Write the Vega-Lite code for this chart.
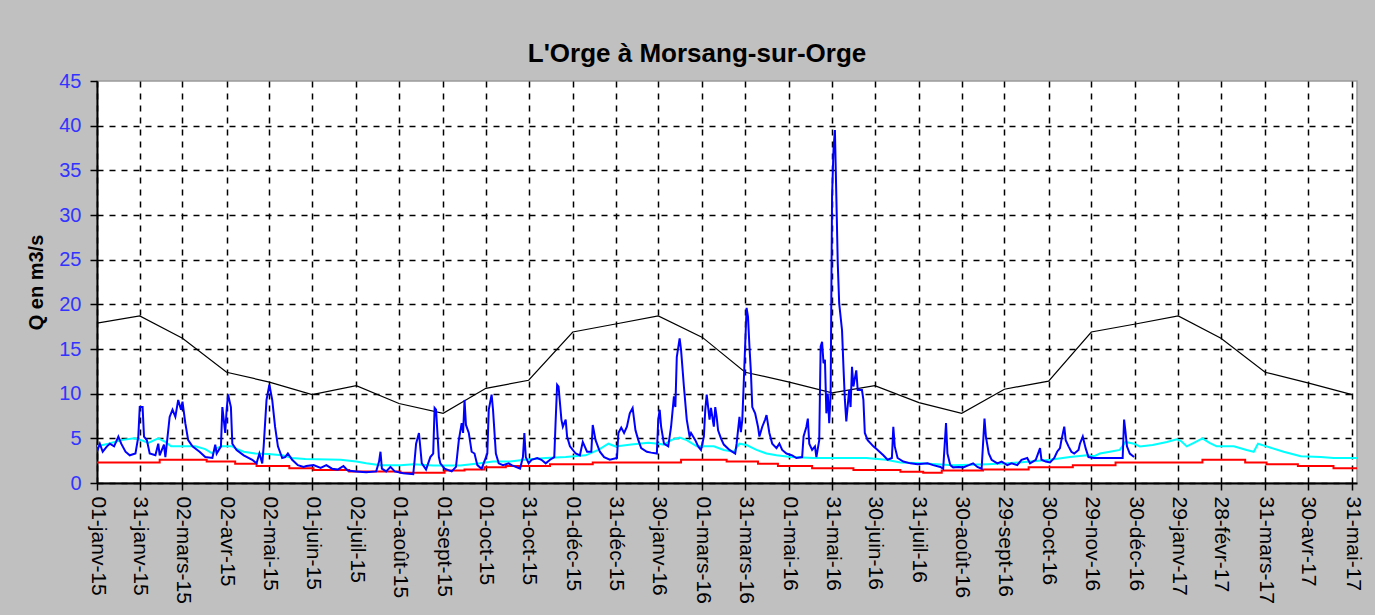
{
  "$schema": "https://vega.github.io/schema/vega-lite/v6.json",
  "width": 1260,
  "height": 402,
  "autosize": {"type": "none"},
  "padding": {"left": 97, "top": 81, "right": 18, "bottom": 132},
  "background": "#C0C0C0",
  "config": {
    "view": {"fill": "white", "stroke": "#9a9a9a", "strokeWidth": 1.5},
    "font": "Liberation Sans"
  },
  "title": {
    "text": "L'Orge à Morsang-sur-Orge",
    "font": "Liberation Sans",
    "fontSize": 26,
    "fontWeight": "bold",
    "color": "black",
    "anchor": "middle",
    "baseline": "alphabetic",
    "dx": -30,
    "dy": 36,
    "offset": 19
  },
  "datasets": {
    "noir": [
      {"date": "2015-01-01", "q": 17.9},
      {"date": "2015-01-31", "q": 18.7},
      {"date": "2015-03-02", "q": 16.2},
      {"date": "2015-04-02", "q": 12.4},
      {"date": "2015-05-02", "q": 11.3},
      {"date": "2015-06-01", "q": 9.9},
      {"date": "2015-07-02", "q": 10.9},
      {"date": "2015-08-01", "q": 8.9},
      {"date": "2015-09-01", "q": 7.8},
      {"date": "2015-10-01", "q": 10.6},
      {"date": "2015-10-31", "q": 11.5},
      {"date": "2015-12-01", "q": 16.9},
      {"date": "2015-12-31", "q": 17.8},
      {"date": "2016-01-30", "q": 18.7},
      {"date": "2016-03-01", "q": 16.3},
      {"date": "2016-03-31", "q": 12.4},
      {"date": "2016-05-01", "q": 11.3},
      {"date": "2016-05-31", "q": 10.1},
      {"date": "2016-06-30", "q": 10.9},
      {"date": "2016-07-31", "q": 9.0},
      {"date": "2016-08-30", "q": 7.8},
      {"date": "2016-09-29", "q": 10.5},
      {"date": "2016-10-30", "q": 11.4},
      {"date": "2016-11-29", "q": 16.9},
      {"date": "2016-12-30", "q": 17.8},
      {"date": "2017-01-29", "q": 18.7},
      {"date": "2017-02-28", "q": 16.2},
      {"date": "2017-03-31", "q": 12.4},
      {"date": "2017-04-30", "q": 11.2},
      {"date": "2017-05-31", "q": 9.9}
    ],
    "rouge": [
      {"date": "2015-01-01", "q": 2.3},
      {"date": "2015-02-14", "q": 2.6},
      {"date": "2015-03-19", "q": 2.4},
      {"date": "2015-04-08", "q": 2.15},
      {"date": "2015-04-23", "q": 1.9},
      {"date": "2015-05-16", "q": 1.65},
      {"date": "2015-06-02", "q": 1.45},
      {"date": "2015-06-27", "q": 1.3},
      {"date": "2015-08-02", "q": 1.15},
      {"date": "2015-09-02", "q": 1.4},
      {"date": "2015-09-16", "q": 1.5},
      {"date": "2015-09-30", "q": 1.75},
      {"date": "2015-10-15", "q": 1.9},
      {"date": "2015-11-15", "q": 2.1},
      {"date": "2015-12-15", "q": 2.3},
      {"date": "2016-02-15", "q": 2.6},
      {"date": "2016-03-18", "q": 2.4},
      {"date": "2016-04-09", "q": 2.15},
      {"date": "2016-04-23", "q": 1.9},
      {"date": "2016-05-17", "q": 1.65},
      {"date": "2016-06-15", "q": 1.45},
      {"date": "2016-07-18", "q": 1.25},
      {"date": "2016-08-03", "q": 1.15},
      {"date": "2016-08-16", "q": 1.4},
      {"date": "2016-09-14", "q": 1.5},
      {"date": "2016-10-16", "q": 1.75},
      {"date": "2016-11-16", "q": 2.0},
      {"date": "2016-12-16", "q": 2.3},
      {"date": "2017-02-15", "q": 2.6},
      {"date": "2017-03-17", "q": 2.3},
      {"date": "2017-04-01", "q": 2.1},
      {"date": "2017-04-23", "q": 1.9},
      {"date": "2017-05-18", "q": 1.65},
      {"date": "2017-06-04", "q": 1.65}
    ],
    "cyan": [
      {"date": "2015-01-01", "q": 4.1},
      {"date": "2015-01-09", "q": 4.4},
      {"date": "2015-01-18", "q": 4.8},
      {"date": "2015-01-27", "q": 5.0},
      {"date": "2015-02-01", "q": 4.8},
      {"date": "2015-02-06", "q": 4.5},
      {"date": "2015-02-13", "q": 5.0},
      {"date": "2015-02-18", "q": 4.6},
      {"date": "2015-02-22", "q": 4.1},
      {"date": "2015-03-11", "q": 4.1},
      {"date": "2015-03-18", "q": 3.8},
      {"date": "2015-03-23", "q": 3.3},
      {"date": "2015-03-26", "q": 3.9},
      {"date": "2015-03-30", "q": 4.1},
      {"date": "2015-04-06", "q": 4.1},
      {"date": "2015-04-09", "q": 3.8},
      {"date": "2015-04-14", "q": 3.5},
      {"date": "2015-04-22", "q": 3.3},
      {"date": "2015-05-01", "q": 3.25},
      {"date": "2015-05-11", "q": 3.1},
      {"date": "2015-05-18", "q": 2.8},
      {"date": "2015-05-27", "q": 2.7},
      {"date": "2015-06-21", "q": 2.6},
      {"date": "2015-07-02", "q": 2.4},
      {"date": "2015-07-09", "q": 2.2},
      {"date": "2015-07-19", "q": 2.0},
      {"date": "2015-08-02", "q": 2.0},
      {"date": "2015-08-11", "q": 2.1},
      {"date": "2015-08-25", "q": 1.95},
      {"date": "2015-09-13", "q": 1.95},
      {"date": "2015-09-27", "q": 2.2},
      {"date": "2015-10-06", "q": 2.4},
      {"date": "2015-10-18", "q": 2.4},
      {"date": "2015-10-28", "q": 2.6},
      {"date": "2015-11-12", "q": 2.8},
      {"date": "2015-11-26", "q": 2.9},
      {"date": "2015-12-10", "q": 3.1},
      {"date": "2015-12-19", "q": 3.7},
      {"date": "2015-12-26", "q": 4.4},
      {"date": "2015-12-31", "q": 4.1},
      {"date": "2016-01-11", "q": 4.3},
      {"date": "2016-01-23", "q": 4.5},
      {"date": "2016-01-30", "q": 4.4},
      {"date": "2016-02-03", "q": 4.3},
      {"date": "2016-02-08", "q": 4.8},
      {"date": "2016-02-14", "q": 5.1},
      {"date": "2016-02-19", "q": 4.8},
      {"date": "2016-02-26", "q": 4.1},
      {"date": "2016-03-09", "q": 4.1},
      {"date": "2016-03-16", "q": 3.7},
      {"date": "2016-03-23", "q": 3.5},
      {"date": "2016-03-27", "q": 4.4},
      {"date": "2016-04-01", "q": 4.25},
      {"date": "2016-04-08", "q": 3.7},
      {"date": "2016-04-15", "q": 3.3},
      {"date": "2016-04-22", "q": 3.1},
      {"date": "2016-05-02", "q": 2.9},
      {"date": "2016-05-18", "q": 2.8},
      {"date": "2016-06-24", "q": 2.8},
      {"date": "2016-07-08", "q": 2.6},
      {"date": "2016-07-18", "q": 2.3},
      {"date": "2016-08-01", "q": 2.2},
      {"date": "2016-08-24", "q": 2.0},
      {"date": "2016-09-17", "q": 2.1},
      {"date": "2016-10-01", "q": 2.2},
      {"date": "2016-10-17", "q": 2.4},
      {"date": "2016-10-31", "q": 2.6},
      {"date": "2016-11-14", "q": 2.9},
      {"date": "2016-11-26", "q": 3.1},
      {"date": "2016-12-01", "q": 3.0},
      {"date": "2016-12-05", "q": 3.3},
      {"date": "2016-12-12", "q": 3.5},
      {"date": "2016-12-19", "q": 3.7},
      {"date": "2016-12-23", "q": 4.6},
      {"date": "2016-12-29", "q": 4.4},
      {"date": "2017-01-02", "q": 4.1},
      {"date": "2017-01-11", "q": 4.25},
      {"date": "2017-01-21", "q": 4.6},
      {"date": "2017-01-28", "q": 4.9},
      {"date": "2017-01-31", "q": 4.7},
      {"date": "2017-02-04", "q": 4.1},
      {"date": "2017-02-09", "q": 4.5},
      {"date": "2017-02-15", "q": 5.0},
      {"date": "2017-02-20", "q": 4.5},
      {"date": "2017-02-25", "q": 4.1},
      {"date": "2017-03-09", "q": 4.1},
      {"date": "2017-03-18", "q": 3.7},
      {"date": "2017-03-23", "q": 3.5},
      {"date": "2017-03-26", "q": 4.4},
      {"date": "2017-04-01", "q": 4.1},
      {"date": "2017-04-13", "q": 3.5},
      {"date": "2017-04-25", "q": 3.0},
      {"date": "2017-05-09", "q": 2.9},
      {"date": "2017-05-18", "q": 2.8},
      {"date": "2017-06-04", "q": 2.8}
    ],
    "bleu": [
      {"date": "2015-01-01", "q": 3.5},
      {"date": "2015-01-03", "q": 4.4},
      {"date": "2015-01-05", "q": 3.5},
      {"date": "2015-01-08", "q": 4.1},
      {"date": "2015-01-10", "q": 4.4},
      {"date": "2015-01-13", "q": 4.1},
      {"date": "2015-01-16", "q": 5.2},
      {"date": "2015-01-18", "q": 4.4},
      {"date": "2015-01-21", "q": 3.5},
      {"date": "2015-01-24", "q": 3.1},
      {"date": "2015-01-28", "q": 3.3},
      {"date": "2015-01-30", "q": 5.2},
      {"date": "2015-01-31", "q": 8.5},
      {"date": "2015-02-02", "q": 8.5},
      {"date": "2015-02-03", "q": 5.2},
      {"date": "2015-02-05", "q": 4.8},
      {"date": "2015-02-07", "q": 3.3},
      {"date": "2015-02-11", "q": 3.1},
      {"date": "2015-02-13", "q": 4.4},
      {"date": "2015-02-14", "q": 3.1},
      {"date": "2015-02-17", "q": 4.3},
      {"date": "2015-02-18", "q": 2.9},
      {"date": "2015-02-21", "q": 7.4},
      {"date": "2015-02-23", "q": 8.2},
      {"date": "2015-02-25", "q": 7.4},
      {"date": "2015-02-27", "q": 9.3},
      {"date": "2015-03-01", "q": 8.2},
      {"date": "2015-03-02", "q": 9.1},
      {"date": "2015-03-04", "q": 6.7},
      {"date": "2015-03-06", "q": 4.8},
      {"date": "2015-03-09", "q": 4.1},
      {"date": "2015-03-14", "q": 3.5},
      {"date": "2015-03-18", "q": 2.9},
      {"date": "2015-03-23", "q": 2.8},
      {"date": "2015-03-25", "q": 4.3},
      {"date": "2015-03-26", "q": 3.3},
      {"date": "2015-03-29", "q": 4.1},
      {"date": "2015-03-30", "q": 8.5},
      {"date": "2015-04-01", "q": 5.6},
      {"date": "2015-04-02", "q": 8.2},
      {"date": "2015-04-03", "q": 9.9},
      {"date": "2015-04-05", "q": 8.5},
      {"date": "2015-04-06", "q": 4.4},
      {"date": "2015-04-09", "q": 3.7},
      {"date": "2015-04-14", "q": 3.1},
      {"date": "2015-04-20", "q": 2.6},
      {"date": "2015-04-23", "q": 2.2},
      {"date": "2015-04-25", "q": 3.3},
      {"date": "2015-04-27", "q": 2.2},
      {"date": "2015-04-28", "q": 4.1},
      {"date": "2015-04-30", "q": 9.3},
      {"date": "2015-05-02", "q": 11.0},
      {"date": "2015-05-04", "q": 9.3},
      {"date": "2015-05-06", "q": 6.3},
      {"date": "2015-05-08", "q": 4.1},
      {"date": "2015-05-11", "q": 2.8},
      {"date": "2015-05-13", "q": 2.9},
      {"date": "2015-05-15", "q": 3.3},
      {"date": "2015-05-18", "q": 2.6},
      {"date": "2015-05-22", "q": 2.0},
      {"date": "2015-05-26", "q": 1.8},
      {"date": "2015-05-28", "q": 1.9},
      {"date": "2015-06-02", "q": 2.0},
      {"date": "2015-06-07", "q": 1.7},
      {"date": "2015-06-11", "q": 2.0},
      {"date": "2015-06-15", "q": 1.6},
      {"date": "2015-06-19", "q": 1.5},
      {"date": "2015-06-23", "q": 1.9},
      {"date": "2015-06-26", "q": 1.4},
      {"date": "2015-07-02", "q": 1.3},
      {"date": "2015-07-09", "q": 1.2},
      {"date": "2015-07-16", "q": 1.3},
      {"date": "2015-07-18", "q": 2.4},
      {"date": "2015-07-19", "q": 3.5},
      {"date": "2015-07-20", "q": 1.6},
      {"date": "2015-07-23", "q": 1.3},
      {"date": "2015-07-26", "q": 1.8},
      {"date": "2015-07-29", "q": 1.3},
      {"date": "2015-08-04", "q": 1.1},
      {"date": "2015-08-11", "q": 1.0},
      {"date": "2015-08-12", "q": 2.6},
      {"date": "2015-08-13", "q": 4.4},
      {"date": "2015-08-15", "q": 5.6},
      {"date": "2015-08-17", "q": 2.2},
      {"date": "2015-08-20", "q": 1.5},
      {"date": "2015-08-23", "q": 2.9},
      {"date": "2015-08-25", "q": 3.3},
      {"date": "2015-08-26", "q": 8.4},
      {"date": "2015-08-27", "q": 8.2},
      {"date": "2015-08-29", "q": 2.9},
      {"date": "2015-08-30", "q": 2.2},
      {"date": "2015-09-02", "q": 1.6},
      {"date": "2015-09-07", "q": 1.3},
      {"date": "2015-09-10", "q": 1.8},
      {"date": "2015-09-12", "q": 4.8},
      {"date": "2015-09-14", "q": 6.7},
      {"date": "2015-09-15", "q": 5.6},
      {"date": "2015-09-16", "q": 9.3},
      {"date": "2015-09-17", "q": 6.5},
      {"date": "2015-09-19", "q": 5.6},
      {"date": "2015-09-21", "q": 3.5},
      {"date": "2015-09-23", "q": 3.3},
      {"date": "2015-09-25", "q": 2.0},
      {"date": "2015-09-28", "q": 1.6},
      {"date": "2015-10-02", "q": 3.3},
      {"date": "2015-10-03", "q": 8.2},
      {"date": "2015-10-05", "q": 9.9},
      {"date": "2015-10-06", "q": 8.2},
      {"date": "2015-10-08", "q": 3.3},
      {"date": "2015-10-10", "q": 2.2},
      {"date": "2015-10-13", "q": 2.0},
      {"date": "2015-10-17", "q": 2.2},
      {"date": "2015-10-19", "q": 2.0},
      {"date": "2015-10-25", "q": 1.6},
      {"date": "2015-10-27", "q": 2.9},
      {"date": "2015-10-28", "q": 5.6},
      {"date": "2015-10-29", "q": 2.9},
      {"date": "2015-10-31", "q": 2.2},
      {"date": "2015-11-02", "q": 2.6},
      {"date": "2015-11-06", "q": 2.8},
      {"date": "2015-11-09", "q": 2.6},
      {"date": "2015-11-12", "q": 2.2},
      {"date": "2015-11-15", "q": 2.6},
      {"date": "2015-11-18", "q": 2.9},
      {"date": "2015-11-19", "q": 7.1},
      {"date": "2015-11-20", "q": 11.0},
      {"date": "2015-11-21", "q": 10.8},
      {"date": "2015-11-23", "q": 7.1},
      {"date": "2015-11-24", "q": 6.3},
      {"date": "2015-11-26", "q": 7.1},
      {"date": "2015-11-27", "q": 5.2},
      {"date": "2015-11-29", "q": 4.1},
      {"date": "2015-12-03", "q": 3.3},
      {"date": "2015-12-06", "q": 3.1},
      {"date": "2015-12-08", "q": 4.6},
      {"date": "2015-12-11", "q": 3.5},
      {"date": "2015-12-14", "q": 3.5},
      {"date": "2015-12-15", "q": 6.5},
      {"date": "2015-12-17", "q": 4.8},
      {"date": "2015-12-20", "q": 3.5},
      {"date": "2015-12-23", "q": 2.9},
      {"date": "2015-12-27", "q": 2.6},
      {"date": "2016-01-01", "q": 2.8},
      {"date": "2016-01-02", "q": 5.6},
      {"date": "2016-01-04", "q": 6.2},
      {"date": "2016-01-06", "q": 5.6},
      {"date": "2016-01-08", "q": 6.3},
      {"date": "2016-01-10", "q": 7.8},
      {"date": "2016-01-12", "q": 8.4},
      {"date": "2016-01-14", "q": 5.9},
      {"date": "2016-01-16", "q": 4.8},
      {"date": "2016-01-18", "q": 3.9},
      {"date": "2016-01-22", "q": 3.5},
      {"date": "2016-01-25", "q": 3.4},
      {"date": "2016-01-29", "q": 3.3},
      {"date": "2016-01-30", "q": 7.1},
      {"date": "2016-01-31", "q": 8.2},
      {"date": "2016-02-01", "q": 6.3},
      {"date": "2016-02-03", "q": 4.4},
      {"date": "2016-02-06", "q": 4.1},
      {"date": "2016-02-08", "q": 6.3},
      {"date": "2016-02-10", "q": 9.7},
      {"date": "2016-02-11", "q": 8.5},
      {"date": "2016-02-12", "q": 14.1},
      {"date": "2016-02-14", "q": 16.2},
      {"date": "2016-02-15", "q": 14.9},
      {"date": "2016-02-17", "q": 10.8},
      {"date": "2016-02-19", "q": 7.1},
      {"date": "2016-02-21", "q": 5.2},
      {"date": "2016-02-22", "q": 5.6},
      {"date": "2016-02-25", "q": 4.8},
      {"date": "2016-02-27", "q": 4.1},
      {"date": "2016-02-29", "q": 3.7},
      {"date": "2016-03-02", "q": 5.2},
      {"date": "2016-03-03", "q": 8.2},
      {"date": "2016-03-04", "q": 9.9},
      {"date": "2016-03-06", "q": 7.1},
      {"date": "2016-03-07", "q": 8.4},
      {"date": "2016-03-09", "q": 6.3},
      {"date": "2016-03-10", "q": 8.5},
      {"date": "2016-03-11", "q": 7.4},
      {"date": "2016-03-12", "q": 5.9},
      {"date": "2016-03-14", "q": 5.0},
      {"date": "2016-03-16", "q": 4.3},
      {"date": "2016-03-20", "q": 3.7},
      {"date": "2016-03-24", "q": 3.3},
      {"date": "2016-03-25", "q": 4.4},
      {"date": "2016-03-27", "q": 7.4},
      {"date": "2016-03-28", "q": 5.7},
      {"date": "2016-03-29", "q": 7.1},
      {"date": "2016-03-30", "q": 11.2},
      {"date": "2016-04-01", "q": 19.6},
      {"date": "2016-04-02", "q": 18.6},
      {"date": "2016-04-03", "q": 15.3},
      {"date": "2016-04-04", "q": 12.5},
      {"date": "2016-04-05", "q": 8.5},
      {"date": "2016-04-07", "q": 7.8},
      {"date": "2016-04-09", "q": 6.3},
      {"date": "2016-04-10", "q": 5.2},
      {"date": "2016-04-12", "q": 6.3},
      {"date": "2016-04-14", "q": 7.1},
      {"date": "2016-04-15", "q": 7.6},
      {"date": "2016-04-17", "q": 5.6},
      {"date": "2016-04-19", "q": 4.4},
      {"date": "2016-04-22", "q": 3.9},
      {"date": "2016-04-24", "q": 4.4},
      {"date": "2016-04-26", "q": 3.7},
      {"date": "2016-04-29", "q": 3.3},
      {"date": "2016-05-03", "q": 3.1},
      {"date": "2016-05-06", "q": 2.8},
      {"date": "2016-05-10", "q": 2.9},
      {"date": "2016-05-11", "q": 5.2},
      {"date": "2016-05-13", "q": 6.3},
      {"date": "2016-05-14", "q": 7.2},
      {"date": "2016-05-15", "q": 4.4},
      {"date": "2016-05-17", "q": 3.7},
      {"date": "2016-05-19", "q": 4.1},
      {"date": "2016-05-20", "q": 2.9},
      {"date": "2016-05-22", "q": 4.8},
      {"date": "2016-05-23", "q": 15.3},
      {"date": "2016-05-24", "q": 15.8},
      {"date": "2016-05-25", "q": 13.4},
      {"date": "2016-05-26", "q": 13.8},
      {"date": "2016-05-27", "q": 7.8},
      {"date": "2016-05-28", "q": 10.0},
      {"date": "2016-05-29", "q": 6.7},
      {"date": "2016-05-30", "q": 10.0},
      {"date": "2016-05-31", "q": 32.1},
      {"date": "2016-06-01", "q": 37.3},
      {"date": "2016-06-02", "q": 39.5},
      {"date": "2016-06-03", "q": 32.1},
      {"date": "2016-06-04", "q": 24.6},
      {"date": "2016-06-05", "q": 20.1},
      {"date": "2016-06-07", "q": 17.1},
      {"date": "2016-06-08", "q": 13.0},
      {"date": "2016-06-09", "q": 9.3},
      {"date": "2016-06-10", "q": 6.9},
      {"date": "2016-06-12", "q": 10.4},
      {"date": "2016-06-13", "q": 8.5},
      {"date": "2016-06-14", "q": 13.0},
      {"date": "2016-06-15", "q": 10.8},
      {"date": "2016-06-17", "q": 12.6},
      {"date": "2016-06-18", "q": 10.4},
      {"date": "2016-06-21", "q": 10.4},
      {"date": "2016-06-22", "q": 9.3},
      {"date": "2016-06-23", "q": 5.6},
      {"date": "2016-06-25", "q": 4.8},
      {"date": "2016-06-29", "q": 4.1},
      {"date": "2016-07-02", "q": 3.7},
      {"date": "2016-07-06", "q": 3.1},
      {"date": "2016-07-09", "q": 2.6},
      {"date": "2016-07-12", "q": 2.8},
      {"date": "2016-07-13", "q": 6.3},
      {"date": "2016-07-14", "q": 4.1},
      {"date": "2016-07-16", "q": 2.8},
      {"date": "2016-07-20", "q": 2.4},
      {"date": "2016-07-25", "q": 2.2},
      {"date": "2016-07-30", "q": 2.1},
      {"date": "2016-08-06", "q": 2.2},
      {"date": "2016-08-10", "q": 2.0},
      {"date": "2016-08-15", "q": 1.8},
      {"date": "2016-08-17", "q": 1.6},
      {"date": "2016-08-18", "q": 4.1},
      {"date": "2016-08-19", "q": 6.7},
      {"date": "2016-08-20", "q": 3.3},
      {"date": "2016-08-22", "q": 2.0},
      {"date": "2016-08-24", "q": 1.75},
      {"date": "2016-08-28", "q": 1.8},
      {"date": "2016-08-31", "q": 1.75},
      {"date": "2016-09-04", "q": 2.0},
      {"date": "2016-09-07", "q": 2.2},
      {"date": "2016-09-10", "q": 1.8},
      {"date": "2016-09-13", "q": 1.6},
      {"date": "2016-09-15", "q": 7.2},
      {"date": "2016-09-16", "q": 5.2},
      {"date": "2016-09-18", "q": 3.3},
      {"date": "2016-09-20", "q": 2.6},
      {"date": "2016-09-24", "q": 2.2},
      {"date": "2016-09-27", "q": 2.4},
      {"date": "2016-10-01", "q": 2.0},
      {"date": "2016-10-04", "q": 2.2},
      {"date": "2016-10-08", "q": 2.0},
      {"date": "2016-10-11", "q": 2.6},
      {"date": "2016-10-15", "q": 2.8},
      {"date": "2016-10-17", "q": 2.2},
      {"date": "2016-10-21", "q": 2.6},
      {"date": "2016-10-24", "q": 3.9},
      {"date": "2016-10-25", "q": 2.6},
      {"date": "2016-10-28", "q": 2.4},
      {"date": "2016-10-31", "q": 2.3},
      {"date": "2016-11-03", "q": 2.8},
      {"date": "2016-11-05", "q": 3.5},
      {"date": "2016-11-07", "q": 3.9},
      {"date": "2016-11-08", "q": 4.8},
      {"date": "2016-11-10", "q": 6.3},
      {"date": "2016-11-11", "q": 4.8},
      {"date": "2016-11-13", "q": 4.1},
      {"date": "2016-11-15", "q": 3.5},
      {"date": "2016-11-17", "q": 3.3},
      {"date": "2016-11-20", "q": 3.7},
      {"date": "2016-11-21", "q": 4.4},
      {"date": "2016-11-23", "q": 5.2},
      {"date": "2016-11-25", "q": 3.9},
      {"date": "2016-11-27", "q": 2.9},
      {"date": "2016-12-01", "q": 2.8},
      {"date": "2016-12-08", "q": 2.8},
      {"date": "2016-12-15", "q": 2.8},
      {"date": "2016-12-21", "q": 2.8},
      {"date": "2016-12-22", "q": 7.1},
      {"date": "2016-12-23", "q": 5.7},
      {"date": "2016-12-24", "q": 4.1},
      {"date": "2016-12-26", "q": 3.3},
      {"date": "2016-12-29", "q": 2.9}
    ]
  },
  "encoding": {
    "x": {
      "field": "date",
      "type": "temporal",
      "scale": {
        "type": "utc",
        "nice": false,
        "domain": [
          {"year": 2015, "month": 1, "date": 1, "utc": true},
          {"year": 2017, "month": 6, "date": 3, "hours": 12, "utc": true}
        ]
      },
      "axis": {
        "title": null,
        "values": [
          {"year": 2015, "month": 1, "date": 1, "utc": true},
          {"year": 2015, "month": 1, "date": 31, "utc": true},
          {"year": 2015, "month": 3, "date": 2, "utc": true},
          {"year": 2015, "month": 4, "date": 2, "utc": true},
          {"year": 2015, "month": 5, "date": 2, "utc": true},
          {"year": 2015, "month": 6, "date": 1, "utc": true},
          {"year": 2015, "month": 7, "date": 2, "utc": true},
          {"year": 2015, "month": 8, "date": 1, "utc": true},
          {"year": 2015, "month": 9, "date": 1, "utc": true},
          {"year": 2015, "month": 10, "date": 1, "utc": true},
          {"year": 2015, "month": 10, "date": 31, "utc": true},
          {"year": 2015, "month": 12, "date": 1, "utc": true},
          {"year": 2015, "month": 12, "date": 31, "utc": true},
          {"year": 2016, "month": 1, "date": 30, "utc": true},
          {"year": 2016, "month": 3, "date": 1, "utc": true},
          {"year": 2016, "month": 3, "date": 31, "utc": true},
          {"year": 2016, "month": 5, "date": 1, "utc": true},
          {"year": 2016, "month": 5, "date": 31, "utc": true},
          {"year": 2016, "month": 6, "date": 30, "utc": true},
          {"year": 2016, "month": 7, "date": 31, "utc": true},
          {"year": 2016, "month": 8, "date": 30, "utc": true},
          {"year": 2016, "month": 9, "date": 29, "utc": true},
          {"year": 2016, "month": 10, "date": 30, "utc": true},
          {"year": 2016, "month": 11, "date": 29, "utc": true},
          {"year": 2016, "month": 12, "date": 30, "utc": true},
          {"year": 2017, "month": 1, "date": 29, "utc": true},
          {"year": 2017, "month": 2, "date": 28, "utc": true},
          {"year": 2017, "month": 3, "date": 31, "utc": true},
          {"year": 2017, "month": 4, "date": 30, "utc": true},
          {"year": 2017, "month": 5, "date": 31, "utc": true}
        ],
        "labelExpr": "utcFormat(datum.value, '%d') + '-' + ['janv','févr','mars','avr','mai','juin','juil','août','sept','oct','nov','déc'][utcmonth(datum.value)] + '-' + utcFormat(datum.value, '%y')",
        "labelAngle": 90,
        "labelAlign": "left",
        "labelBaseline": "middle",
        "labelFont": "Liberation Sans",
        "labelFontSize": 21,
        "labelColor": "black",
        "labelPadding": 6,
        "labelOverlap": false,
        "labelFlush": false,
        "labelBound": false,
        "tickSize": 7,
        "tickColor": "black",
        "tickWidth": 1.5,
        "domainColor": "black",
        "domainWidth": 2,
        "grid": true,
        "gridColor": "black",
        "gridDash": [6, 6],
        "gridWidth": 1.5
      }
    },
    "y": {
      "field": "q",
      "type": "quantitative",
      "scale": {"domain": [0, 45], "nice": false},
      "axis": {
        "title": "Q en m3/s",
        "titleFont": "Liberation Sans",
        "titleFontSize": 20,
        "titleFontWeight": "bold",
        "titleColor": "black",
        "titlePadding": 12,
        "values": [0, 5, 10, 15, 20, 25, 30, 35, 40, 45],
        "labelFont": "Liberation Sans",
        "labelFontSize": 20,
        "labelColor": "#3333FF",
        "labelPadding": 9,
        "tickSize": 7,
        "tickColor": "black",
        "tickWidth": 1.5,
        "domainColor": "black",
        "domainWidth": 2,
        "grid": true,
        "gridColor": "black",
        "gridDash": [6, 6],
        "gridWidth": 1.5,
        "gridOpacity": {"condition": {"test": "datum.value == 45", "value": 0}, "value": 1}
      }
    }
  },
  "layer": [
    {"data": {"name": "rouge"}, "mark": {"type": "line", "color": "#FF0000", "strokeWidth": 2, "interpolate": "step-after", "clip": true}, "encoding": {}},
    {"data": {"name": "cyan"}, "mark": {"type": "line", "color": "#00FFFF", "strokeWidth": 2, "clip": true}, "encoding": {}},
    {"data": {"name": "noir"}, "mark": {"type": "line", "color": "#000000", "strokeWidth": 1.2, "clip": true}, "encoding": {}},
    {"data": {"name": "bleu"}, "mark": {"type": "line", "color": "#0000FF", "strokeWidth": 2, "clip": true}, "encoding": {}}
  ]
}
